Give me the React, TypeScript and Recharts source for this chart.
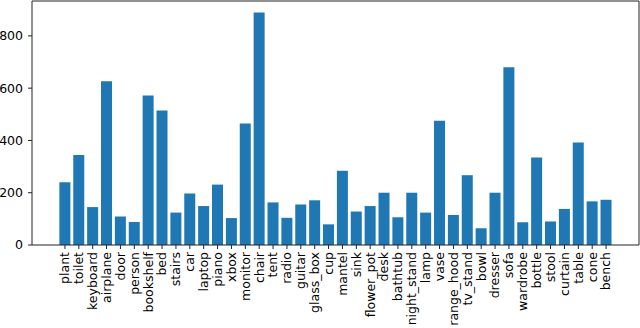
import { BarChart, Bar, XAxis, YAxis } from 'recharts';

const categories = [
  'plant', 'toilet', 'keyboard', 'airplane', 'door', 'person', 'bookshelf', 'bed',
  'stairs', 'car', 'laptop', 'piano', 'xbox', 'monitor', 'chair', 'tent', 'radio',
  'guitar', 'glass_box', 'cup', 'mantel', 'sink', 'flower_pot', 'desk', 'bathtub',
  'night_stand', 'lamp', 'vase', 'range_hood', 'tv_stand', 'bowl', 'dresser', 'sofa',
  'wardrobe', 'bottle', 'stool', 'curtain', 'table', 'cone', 'bench',
];

const counts = [
  240, 344, 145, 626, 109, 88, 572, 515, 124, 197, 149, 231, 103, 465, 889, 163, 104,
  155, 171, 79, 284, 128, 149, 200, 106, 200, 124, 475, 115, 267, 64, 200, 680, 87,
  335, 90, 138, 392, 167, 173,
];

const yTicks = [0, 200, 400, 600, 800];

const data = categories.map((name, i) => ({ name, count: counts[i] }));

const FONT = '"DejaVu Sans", sans-serif';
const AXIS = '#222';
const FS = 12.5;

function XTick({ x, y, payload }: any) {
  return (
    <text
      x={x}
      y={y}
      transform={`rotate(-90, ${x}, ${y})`}
      textAnchor="end"
      dy="0.35em"
      fontSize={FS}
      fontFamily={FONT}
      fill="#000"
    >
      {payload.value}
    </text>
  );
}

export default function App() {
  return (
    <div style={{ position: 'absolute', left: 0, top: 0, background: '#fff' }}>
      <BarChart
        width={640}
        height={328}
        data={data}
        margin={{ top: 0, right: 0, bottom: 0, left: 0 }}
        barCategoryGap="10%"
      >
        <XAxis
          dataKey="name"
          interval={0}
          height={83}
          padding={{ left: 26, right: 26 }}
          tick={<XTick />}
          tickSize={4}
          tickMargin={3}
          axisLine={{ stroke: AXIS }}
          tickLine={{ stroke: AXIS }}
        />
        <XAxis xAxisId="top" orientation="top" dataKey="name" height={1} tick={false} tickLine={false} axisLine={{ stroke: AXIS }} />
        <YAxis
          width={32}
          domain={[0, 933.45]}
          ticks={yTicks}
          tickSize={4}
          tickMargin={5}
          tick={{ fontSize: FS, fontFamily: FONT, fill: '#000' }}
          axisLine={{ stroke: AXIS }}
          tickLine={{ stroke: AXIS }}
        />
        <YAxis yAxisId="right" orientation="right" width={1} domain={[0, 933.45]} tick={false} tickLine={false} axisLine={{ stroke: AXIS }} />
        <Bar dataKey="count" fill="#1f77b4" isAnimationActive={false} />
      </BarChart>
    </div>
  );
}
